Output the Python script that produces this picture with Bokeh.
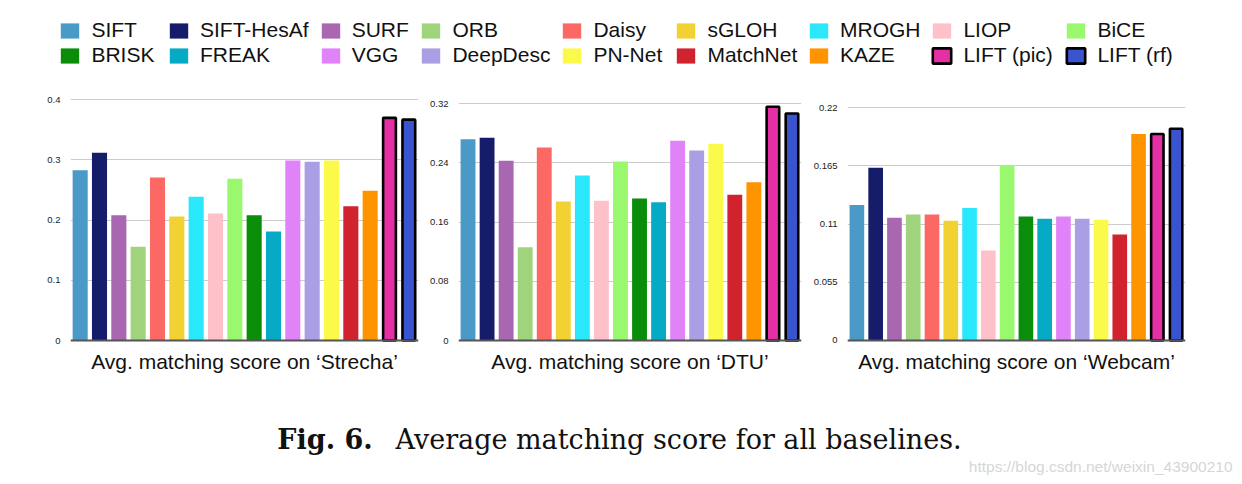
from bokeh.plotting import figure
from bokeh.models import (ColumnDataSource, FactorRange, Range1d, FixedTicker, Span,
                          Legend, LegendItem, Label)
from bokeh.layouts import column, row
from bokeh.embed import file_html
from bokeh.resources import INLINE

# ---------------- data ----------------
METHODS = ["SIFT", "SIFT-HesAf", "SURF", "ORB", "Daisy", "sGLOH", "MROGH", "LIOP", "BiCE",
           "BRISK", "FREAK", "VGG", "DeepDesc", "PN-Net", "MatchNet", "KAZE",
           "LIFT (pic)", "LIFT (rf)"]

STRECHA = [0.283, 0.312, 0.208, 0.156, 0.271, 0.206, 0.239, 0.211, 0.269,
           0.208, 0.181, 0.299, 0.297, 0.299, 0.223, 0.249, 0.370, 0.367]
DTU = [0.272, 0.274, 0.243, 0.126, 0.261, 0.188, 0.223, 0.189, 0.242,
       0.192, 0.187, 0.270, 0.257, 0.266, 0.197, 0.214, 0.316, 0.307]
WEBCAM = [0.128, 0.163, 0.116, 0.119, 0.119, 0.113, 0.125, 0.085, 0.165,
          0.117, 0.115, 0.117, 0.115, 0.114, 0.100, 0.195, 0.195, 0.200]

STRECHA_TICKS = [0, 0.1, 0.2, 0.3, 0.4]
STRECHA_TICK_LABELS = ["0", "0.1", "0.2", "0.3", "0.4"]
DTU_TICKS = [0, 0.08, 0.16, 0.24, 0.32]
DTU_TICK_LABELS = ["0", "0.08", "0.16", "0.24", "0.32"]
WEBCAM_TICKS = [0, 0.055, 0.11, 0.165, 0.22]
WEBCAM_TICK_LABELS = ["0", "0.055", "0.11", "0.165", "0.22"]

TITLES = ["Avg. matching score on \u2018Strecha\u2019",
          "Avg. matching score on \u2018DTU\u2019",
          "Avg. matching score on \u2018Webcam\u2019"]

CAPTION_BOLD = "Fig. 6."
CAPTION_TEXT = "Average matching score for all baselines."
WATERMARK = "https://blog.csdn.net/weixin_43900210"

# ---------------- styles ----------------
COLORS = ["#4a9ac8", "#151d6b", "#a966b1", "#a0d47c", "#fc6863", "#f2d132", "#2ae8fb",
          "#fec1c9", "#9af86e", "#0a8e0a", "#06aac4", "#e082f8", "#aa9fe5", "#fbfa4a",
          "#d0232e", "#fe9400", "#e52fa5", "#3a54d0"]
OUTLINED = {"LIFT (pic)", "LIFT (rf)"}
SANS = "Liberation Sans"
SERIF = "DejaVu Serif"

CH_H = 304


def make_chart(values, ticks, tick_labels, title, y0, y1, width, bl, br):
    p = figure(x_range=FactorRange(*METHODS), y_range=Range1d(y0, y1),
               width=width, height=CH_H, min_border_left=bl, min_border_right=br,
               min_border_top=8, min_border_bottom=50,
               output_backend="svg", toolbar_location=None,
               title=title, title_location="below")
    plain = [i for i, m in enumerate(METHODS) if m not in OUTLINED]
    boxed = [i for i, m in enumerate(METHODS) if m in OUTLINED]
    src_a = ColumnDataSource(dict(m=[METHODS[i] for i in plain],
                                  v=[values[i] for i in plain],
                                  c=[COLORS[i] for i in plain]))
    src_b = ColumnDataSource(dict(m=[METHODS[i] for i in boxed],
                                  v=[values[i] for i in boxed],
                                  c=[COLORS[i] for i in boxed]))
    p.vbar(x="m", top="v", width=0.78, fill_color="c", line_color=None, source=src_a)
    p.vbar(x="m", top="v", width=0.66, fill_color="c", line_color="#000000",
           line_width=2.6, source=src_b)
    p.add_layout(Span(location=0, dimension="width", line_color="#555555", line_width=2))

    p.xaxis.visible = False
    p.xgrid.visible = False
    p.ygrid.ticker = FixedTicker(ticks=ticks)
    p.ygrid.grid_line_color = "#cccccc"
    p.ygrid.grid_line_width = 1
    ax = p.yaxis[0]
    ax.ticker = FixedTicker(ticks=ticks)
    ax.major_label_overrides = {t: lab for t, lab in zip(ticks, tick_labels)}
    ax.axis_line_color = None
    ax.major_tick_line_color = None
    ax.minor_tick_line_color = None
    ax.major_tick_out = 0
    ax.major_tick_in = 0
    ax.major_label_standoff = 10
    ax.major_label_text_font = SANS
    ax.major_label_text_font_size = "9.5px"
    ax.major_label_text_color = "#222222"

    p.outline_line_color = None
    p.title.align = "center"
    p.title.text_font = SANS
    p.title.text_font_size = "21px"
    p.title.text_font_style = "normal"
    p.title.text_color = "#111111"
    return p


c1 = make_chart(STRECHA, STRECHA_TICKS, STRECHA_TICK_LABELS, TITLES[0],
                -0.0033, 0.4055, 415, 62, 5)
c2 = make_chart(DTU, DTU_TICKS, DTU_TICK_LABELS, TITLES[1],
                -0.0027, 0.3299, 383, 35, 5)
c3 = make_chart(WEBCAM, WEBCAM_TICKS, WEBCAM_TICK_LABELS, TITLES[2],
                -0.0019, 0.2304, 428, 41, 49)

# ---------------- legend ----------------
leg = figure(width=1226, height=80, min_border=0, output_backend="svg",
             toolbar_location=None, x_axis_location=None, y_axis_location=None,
             x_range=Range1d(0, 1), y_range=Range1d(0, 1))
leg.outline_line_color = None
leg.grid.visible = False
rends = []
for m, c in zip(METHODS, COLORS):
    # legend-only renderers (hidden); the legend still draws their swatches
    if m in OUTLINED:
        r = leg.vbar(x=[-5], bottom=[-6], top=[-5], width=0.5, fill_color=c,
                     line_color="#000000", line_width=2.6)
    else:
        r = leg.vbar(x=[-5], bottom=[-6], top=[-5], width=0.5, fill_color=c,
                     line_color=None)
    r.visible = False
    rends.append(r)

LEG_X = [50.4, 159, 310.7, 411.4, 552.4, 666.4, 799, 922.4, 1056.4]
LEG_Y = 21
ncol = 9
for k in range(ncol):
    items = [LegendItem(label=METHODS[k], renderers=[rends[k]]),
             LegendItem(label=METHODS[k + ncol], renderers=[rends[k + ncol]])]
    lg = Legend(items=items, location=(LEG_X[k], LEG_Y), orientation="vertical",
                glyph_width=23, glyph_height=19, label_standoff=10, spacing=1,
                padding=0, margin=0, border_line_color=None, background_fill_alpha=0,
                inactive_fill_alpha=0,
                label_text_font=SANS, label_text_font_size="21px",
                label_text_color="#111111")
    leg.add_layout(lg)

# ---------------- caption ----------------
cap = figure(width=1226, height=84, min_border=0, output_backend="svg",
             toolbar_location=None, x_axis_location=None, y_axis_location=None,
             x_range=Range1d(0, 1226), y_range=Range1d(0, 84))
cap.outline_line_color = None
cap.grid.visible = False
cap.add_layout(Label(x=316.5, y=37.5, x_units="screen", y_units="screen", text=CAPTION_BOLD,
                     text_font=SERIF, text_font_style="bold", text_font_size="27px",
                     text_align="center", text_baseline="alphabetic", text_color="#111111"))
cap.add_layout(Label(x=387, y=37.5, x_units="screen", y_units="screen", text=CAPTION_TEXT,
                     text_font=SERIF, text_font_size="27px",
                     text_align="left", text_baseline="alphabetic", text_color="#111111"))
cap.add_layout(Label(x=1224, y=10, x_units="screen", y_units="screen", text=WATERMARK,
                     text_font=SANS, text_font_size="15.5px",
                     text_align="right", text_baseline="alphabetic", text_color="#d6d6d6"))

layout = column(leg, row(c1, c2, c3), cap, margin=(8, 0, 0, 8))
open("out.html", "w").write(file_html(layout, INLINE))
